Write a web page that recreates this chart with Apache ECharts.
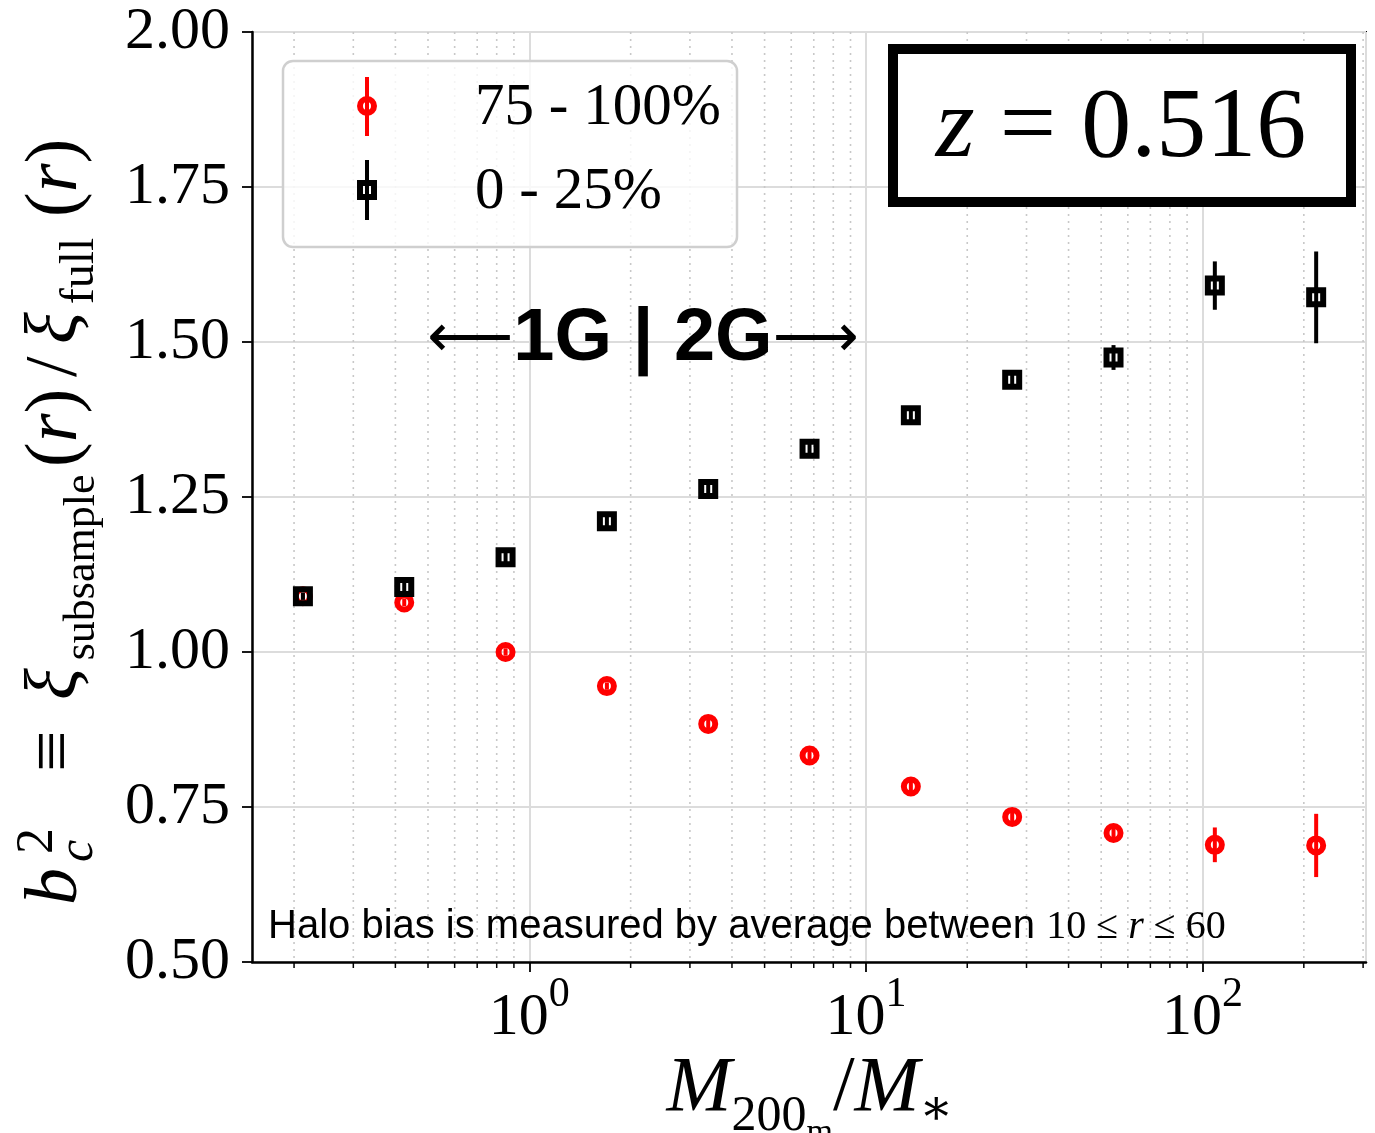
<!DOCTYPE html>
<html>
<head>
<meta charset="utf-8">
<script src="https://cdn.jsdelivr.net/npm/echarts@6/dist/echarts.min.js"></script>
<style>
  html, body { margin: 0; padding: 0; background: #fff; }
  #main { width: 1375px; height: 1133px; }
</style>
</head>
<body>
<div id="main"></div>
<script>
// M200m / M* bins
const massRatio = [0.2125, 0.425, 0.85, 1.7, 3.4, 6.8, 13.6, 27.2, 54.4, 108.8, 217.6];
// 75 - 100% subsample
const biasHigh = [1.090, 1.080, 1.000, 0.945, 0.884, 0.833, 0.783, 0.734, 0.708, 0.689, 0.688];
const errHigh = [0.005, 0.006, 0.006, 0.006, 0.007, 0.008, 0.009, 0.010, 0.014, 0.028, 0.051];
// 0 - 25% subsample
const biasLow = [1.090, 1.105, 1.153, 1.211, 1.263, 1.328, 1.382, 1.439, 1.475, 1.591, 1.572];
const errLow = [0.006, 0.010, 0.008, 0.008, 0.008, 0.010, 0.012, 0.014, 0.020, 0.039, 0.074];
// minor ticks of the log axis
const minorTicks = [0.2, 0.3, 0.4, 0.5, 0.6, 0.7, 0.8, 0.9, 2, 3, 4, 5, 6, 7, 8, 9,
  20, 30, 40, 50, 60, 70, 80, 90, 200, 300];
const legendNames = ['75 - 100%', '0 - 25%'];

const SERIF = '"Liberation Serif", "DejaVu Serif", serif';
const SANS = '"Liberation Sans", Arial, sans-serif';
const RED = '#ff0000';

const chart = echarts.init(document.getElementById('main'));

function errRender(color) {
  return function (params, api) {
    const x = api.value(0), y = api.value(1), e = api.value(2);
    const lo = api.coord([x, y - e]);
    const hi = api.coord([x, y + e]);
    return {
      type: 'line',
      shape: { x1: lo[0], y1: lo[1], x2: hi[0], y2: hi[1] },
      style: { stroke: color, lineWidth: 4 }
    };
  };
}

function minorRender(params, api) {
  const cs = params.coordSys;
  const x = api.coord([api.value(0), 1])[0];
  return {
    type: 'group',
    children: [
      { type: 'line', shape: { x1: x, y1: cs.y, x2: x, y2: cs.y + cs.height },
        style: { stroke: '#c8c8c8', lineWidth: 1.6, lineDash: [2, 5] } },
      { type: 'line', shape: { x1: x, y1: cs.y + cs.height, x2: x, y2: cs.y + cs.height + 6 },
        style: { stroke: '#000', lineWidth: 1.5 } }
    ]
  };
}

function txt(x, y, text, size, extra) {
  return {
    type: 'text', x: x, y: y, z: 60,
    style: Object.assign({
      text: text, fill: '#000', fontSize: size, fontFamily: SERIF,
      align: 'left', verticalAlign: 'middle', textAlign: 'left', textVerticalAlign: 'middle'
    }, extra || {})
  };
}
// rotated (reads bottom to top), starts at (x, y)
function vtxt(y, text) {
  const t = txt(62, y, text, 74, { rich: yRich });
  t.rotation = Math.PI / 2;
  return t;
}

const yRich = {
  i: { fontSize: 74, fontFamily: SERIF, fontStyle: 'italic', verticalAlign: 'top', padding: [0, 0, 10, 0] },
  x: { fontSize: 74, fontFamily: SERIF, fontStyle: 'italic', verticalAlign: 'top', padding: [0, 8, 10, 6] },
  n: { fontSize: 74, fontFamily: SERIF, verticalAlign: 'top', padding: [0, 0, 10, 0] },
  s: { fontSize: 44, fontFamily: SERIF, verticalAlign: 'bottom' },
  f: { fontSize: 48, fontFamily: SERIF, verticalAlign: 'bottom', padding: [0, 4, 0, 0] },
  si: { fontSize: 50, fontFamily: SERIF, fontStyle: 'italic', verticalAlign: 'bottom', padding: [0, 0, 0, 6] }
};

const option = {
  backgroundColor: '#fff',
  animation: false,
  grid: { left: 252, right: 9, top: 32, bottom: 171, show: true, borderColor: '#000', borderWidth: 2 },
  xAxis: {
    type: 'log', logBase: 10, min: 0.15, max: 306,
    axisLine: { show: true, lineStyle: { color: '#000', width: 2.5 } },
    axisTick: { show: true, length: 10, lineStyle: { color: '#000', width: 1.8 } },
    splitLine: { show: true, lineStyle: { color: '#dcdcdc', width: 2 } },
    axisLabel: {
      margin: 12, color: '#000',
      showMinLabel: false, showMaxLabel: false,
      formatter: function (v) {
        const p = Math.log10(v);
        if (Math.abs(p - Math.round(p)) < 1e-6) return '{b|10}{s|' + Math.round(p) + '}';
        return '';
      },
      rich: {
        b: { fontSize: 60, fontFamily: SERIF, color: '#000', verticalAlign: 'bottom', padding: [14, 0, 0, 0] },
        s: { fontSize: 42, fontFamily: SERIF, color: '#000', verticalAlign: 'top' }
      }
    }
  },
  yAxis: {
    type: 'value', min: 0.5, max: 2.0, interval: 0.25,
    axisLine: { show: true, lineStyle: { color: '#000', width: 2.5 } },
    axisTick: { show: true, length: 10, lineStyle: { color: '#000', width: 1.8 } },
    splitLine: { show: true, lineStyle: { color: '#dcdcdc', width: 2 } },
    axisLabel: {
      margin: 22, color: '#000', fontSize: 60, fontFamily: SERIF,
      formatter: function (v) { return v.toFixed(2); }
    }
  },
  series: [
    { type: 'custom', name: 'minor', z: 1, clip: false, silent: true,
      renderItem: minorRender, data: minorTicks.map(function (v) { return [v, 1]; }) },
    { type: 'custom', name: legendNames[0] + ' err', z: 3, silent: true,
      renderItem: errRender(RED),
      data: massRatio.map(function (m, i) { return [m, biasHigh[i], errHigh[i]]; }) },
    { type: 'scatter', name: legendNames[0], z: 4, symbol: 'circle', symbolSize: 14,
      itemStyle: { color: 'rgba(0,0,0,0)', borderColor: RED, borderWidth: 6, opacity: 1 },
      data: massRatio.map(function (m, i) { return [m, biasHigh[i]]; }) },
    { type: 'custom', name: legendNames[1] + ' err', z: 5, silent: true,
      renderItem: errRender('#000'),
      data: massRatio.map(function (m, i) { return [m, biasLow[i], errLow[i]]; }) },
    { type: 'scatter', name: legendNames[1], z: 6, symbol: 'rect', symbolSize: 14,
      itemStyle: { color: 'rgba(0,0,0,0)', borderColor: '#000', borderWidth: 6, opacity: 1 },
      data: massRatio.map(function (m, i) { return [m, biasLow[i]]; }) }
  ],
  graphic: [
    // legend
    { type: 'rect', z: 50, shape: { x: 283, y: 61, width: 454, height: 186, r: 10 },
      style: { fill: 'rgba(255,255,255,0.8)', stroke: '#cfcfcf', lineWidth: 2.5 } },
    { type: 'line', z: 51, shape: { x1: 367, y1: 77, x2: 367, y2: 136 }, style: { stroke: RED, lineWidth: 4 } },
    { type: 'circle', z: 52, shape: { cx: 367, cy: 106, r: 7 }, style: { fill: 'none', stroke: RED, lineWidth: 6 } },
    { type: 'line', z: 51, shape: { x1: 367, y1: 160, x2: 367, y2: 220 }, style: { stroke: '#000', lineWidth: 4 } },
    { type: 'rect', z: 52, shape: { x: 360, y: 183, width: 14, height: 14 }, style: { fill: 'none', stroke: '#000', lineWidth: 6 } },
    txt(475, 108, legendNames[0], 59),
    txt(475, 192, legendNames[1], 59),
    // redshift box
    { type: 'rect', z: 50, shape: { x: 893, y: 49, width: 458, height: 153 },
      style: { fill: '#fff', stroke: '#000', lineWidth: 10 } },
    txt(1121, 130, '{i|z} = 0.516', 100, {
      align: 'center', textAlign: 'center',
      rich: { i: { fontSize: 100, fontFamily: SERIF, fontStyle: 'italic' } }
    }),
    // generation divider
    txt(643, 340, '{a|⟵}{b|1G | 2G}{a|⟶}', 70, {
      align: 'center', textAlign: 'center',
      rich: {
        a: { fontSize: 60, fontFamily: '"DejaVu Sans", sans-serif' },
        b: { fontSize: 74, fontFamily: SANS, fontWeight: 'bold' }
      }
    }),
    // note
    txt(268, 927, '{s|Halo bias is measured by average between }{n|10 ≤ }{i|r}{n| ≤ 60}', 40, {
      rich: {
        s: { fontSize: 40, fontFamily: SANS },
        n: { fontSize: 40, fontFamily: SERIF },
        i: { fontSize: 40, fontFamily: SERIF, fontStyle: 'italic' }
      }
    }),
    // x axis title
    txt(810, 1100, '{M|M}{a|200}{b|m}{n|/}{M|M}{c|∗}', 76, {
      align: 'center', textAlign: 'center',
      rich: {
        M: { fontSize: 78, fontFamily: SERIF, fontStyle: 'italic', verticalAlign: 'top', padding: [0, 0, 22, 0] },
        n: { fontSize: 78, fontFamily: SERIF, verticalAlign: 'top', padding: [0, 0, 22, 0] },
        a: { fontSize: 50, fontFamily: SERIF, verticalAlign: 'bottom', padding: [0, 0, 8, 0] },
        b: { fontSize: 34, fontFamily: SERIF, verticalAlign: 'bottom' },
        c: { fontSize: 50, fontFamily: SERIF, verticalAlign: 'bottom', padding: [0, 0, 14, 0] }
      }
    }),
    // y axis title: b_c^2 ≡ ξ_subsample(r)/ξ_full(r)
    vtxt(905, '{i|b}{si|c}'),
    (function () { const t = txt(38, 854, '2', 52); t.rotation = Math.PI / 2; return t; })(),
    vtxt(772, '{n|≡}'),
    vtxt(706, '{x|ξ}{s|subsample}'),
    vtxt(467, '{n|(}{i|r}{n|)}'),
    vtxt(377, '{n|/}'),
    vtxt(350, '{x|ξ}{f|full}'),
    vtxt(217, '{n|(}{i|r}{n|)}')
  ]
};

chart.setOption(option);
</script>
</body>
</html>
